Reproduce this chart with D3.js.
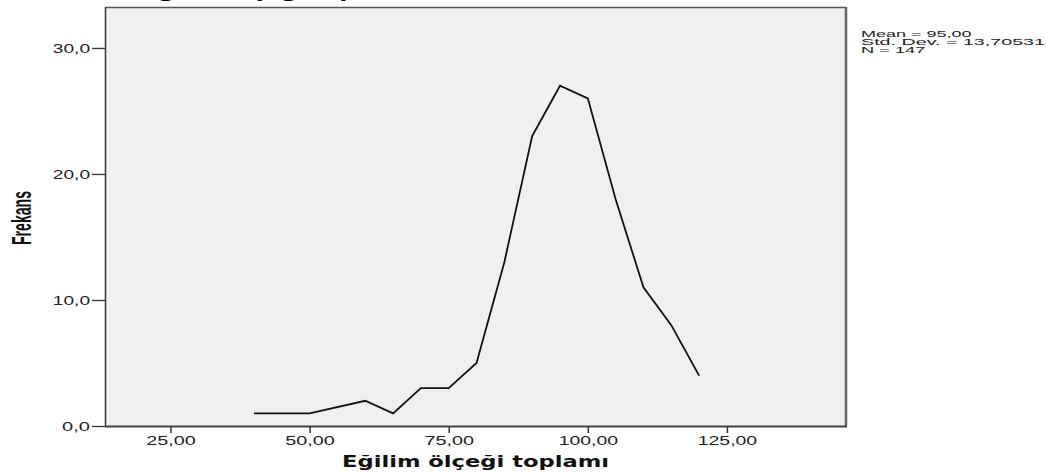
<!DOCTYPE html>
<html>
<head>
<meta charset="utf-8">
<script src="https://cdn.jsdelivr.net/npm/d3@7"></script>
<style>
  html, body { margin: 0; padding: 0; background: #fff; }
  svg { display: block; }
</style>
</head>
<body>
<div id="chart"></div>
<script>
// ---- data ----
const binMids = [40, 45, 50, 60, 65, 70, 75, 80, 85, 90, 95, 100, 105, 110, 115, 120];
const freqs   = [1, 1, 1, 2, 1, 3, 3, 5, 13, 23, 27, 26, 18, 11, 8, 4];
const xTicks  = [25, 50, 75, 100, 125];
const yTicks  = [0, 10, 20, 30];
const statsLines = ["Mean = 95,00", "Std. Dev. = 13,70531", "N = 147"];
const xTitle = "Eğilim ölçeği toplamı";
const yTitle = "Frekans";

const width = 1046, height = 472;
const plot = { left: 105, top: 7, right: 846, bottom: 426 };

const svg = d3.select('#chart').append('svg')
  .attr('width', width)
  .attr('height', height);

const x = d3.scaleLinear().domain([13.23, 146.4]).range([plot.left, plot.right]);
const y = d3.scaleLinear().domain([0, 33.25]).range([plot.bottom, plot.top]);

// stretched text helper - SPSS export looks horizontally widened
function stretch(sel, perChar) {
  sel.each(function() {
    const t = d3.select(this);
    t.attr('textLength', t.text().length * perChar).attr('lengthAdjust', 'spacingAndGlyphs');
  });
}

// title of the chart, mostly cut off by the top edge (only descenders show)
svg.append('text')
  .attr('x', 143).attr('y', -1.8)
  .attr('font-family', 'DejaVu Sans').attr('font-weight', 'bold').attr('font-size', 15)
  .attr('textLength', 267).attr('lengthAdjust', 'spacingAndGlyphs')
  .text(xTitle);

// plot background + frame
svg.append('rect')
  .attr('x', plot.left).attr('y', plot.top)
  .attr('width', plot.right - plot.left).attr('height', plot.bottom - plot.top)
  .attr('fill', '#f0f0f0');

svg.append('line') // top
  .attr('x1', plot.left).attr('x2', plot.right).attr('y1', plot.top + 0.5).attr('y2', plot.top + 0.5)
  .attr('stroke', '#555').attr('stroke-width', 1.5);
svg.append('line') // right
  .attr('x1', plot.right).attr('x2', plot.right).attr('y1', plot.top).attr('y2', plot.bottom)
  .attr('stroke', '#666').attr('stroke-width', 2.5);

// frequency polygon
const line = d3.line().x((d, i) => x(binMids[i])).y(d => y(d));
svg.append('path')
  .datum(freqs)
  .attr('d', line)
  .attr('fill', 'none')
  .attr('stroke', '#111')
  .attr('stroke-width', 1.8)
  .attr('stroke-linejoin', 'miter');

const fmt1 = d => d.toFixed(1).replace('.', ',');
const fmt2 = d => d.toFixed(2).replace('.', ',');

// y axis
const yAxis = svg.append('g')
  .attr('transform', `translate(${plot.left},0)`)
  .call(d3.axisLeft(y).tickValues(yTicks).tickFormat(fmt1).tickSize(13).tickPadding(2));
yAxis.select('.domain').attr('stroke', '#333').attr('stroke-width', 1.5)
  .attr('d', `M0.5,${plot.top}V${plot.bottom}`);
yAxis.selectAll('.tick line').attr('stroke', '#333').attr('stroke-width', 1.3);
yAxis.selectAll('.tick text')
  .attr('font-family', 'Liberation Sans').attr('font-size', 12).attr('fill', '#222')
  .attr('dy', '0.35em')
  .call(stretch, 9.3);

// x axis
const xAxis = svg.append('g')
  .attr('transform', `translate(0,${plot.bottom})`)
  .call(d3.axisBottom(x).tickValues(xTicks).tickFormat(fmt2).tickSize(7).tickPadding(3));
xAxis.select('.domain').attr('stroke', '#444').attr('stroke-width', 2)
  .attr('d', `M${plot.left},0.5H${plot.right + 1}`);
xAxis.selectAll('.tick line').attr('stroke', '#333').attr('stroke-width', 1.5);
xAxis.selectAll('.tick text')
  .attr('font-family', 'Liberation Sans').attr('font-size', 12).attr('fill', '#222')
  .call(stretch, 9.9);

// axis titles
svg.append('text')
  .attr('x', (plot.left + plot.right) / 2).attr('y', 467)
  .attr('text-anchor', 'middle')
  .attr('font-family', 'DejaVu Sans').attr('font-weight', 'bold').attr('font-size', 15)
  .attr('fill', '#111')
  .attr('textLength', 267).attr('lengthAdjust', 'spacingAndGlyphs')
  .text(xTitle);

svg.append('text')
  .attr('transform', 'translate(31,218) rotate(-90)')
  .attr('text-anchor', 'middle')
  .attr('font-family', 'Liberation Sans').attr('font-weight', 'bold').attr('font-size', 27)
  .attr('fill', '#111')
  .attr('textLength', 54).attr('lengthAdjust', 'spacingAndGlyphs')
  .text(yTitle);

// stats box text
svg.append('g').selectAll('text')
  .data(statsLines)
  .join('text')
  .attr('x', 861)
  .attr('y', (d, i) => 37 + i * 8)
  .attr('font-family', 'Liberation Sans').attr('font-size', 9.2).attr('fill', '#222')
  .text(d => d)
  .call(stretch, 9.2);
</script>
</body>
</html>
